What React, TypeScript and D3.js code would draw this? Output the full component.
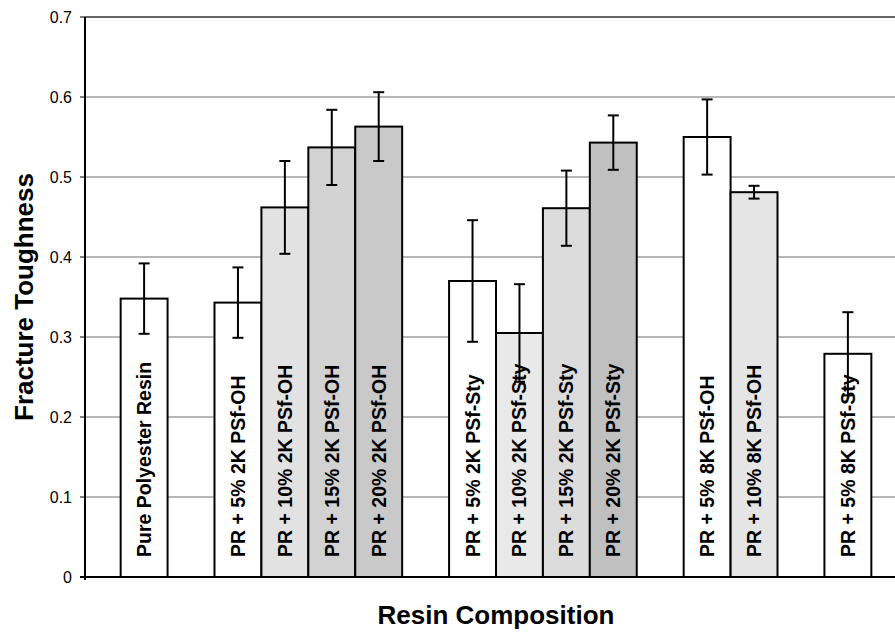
import React from "react";
import * as d3 from "d3";

// Resin compositions, grouped by modifier type; one empty slot separates groups
const groups: string[][] = [
  ["Pure Polyester Resin"],
  ["PR + 5% 2K PSf-OH", "PR + 10% 2K PSf-OH", "PR + 15% 2K PSf-OH", "PR + 20% 2K PSf-OH"],
  ["PR + 5% 2K PSf-Sty", "PR + 10% 2K PSf-Sty", "PR + 15% 2K PSf-Sty", "PR + 20% 2K PSf-Sty"],
  ["PR + 5% 8K PSf-OH", "PR + 10% 8K PSf-OH"],
  ["PR + 5% 8K PSf-Sty"],
];

// Fracture toughness (mean) and its error, in the same order as the compositions
const toughness = [0.348, 0.343, 0.462, 0.537, 0.563, 0.37, 0.305, 0.461, 0.543, 0.55, 0.481, 0.279];
const toughnessError = [0.044, 0.044, 0.058, 0.047, 0.043, 0.076, 0.061, 0.047, 0.034, 0.047, 0.008, 0.052];

// Bar shading per composition
const barFills = [
  "#ffffff",
  "#ffffff", "#e2e2e2", "#d2d2d2", "#c9c9c9",
  "#ffffff", "#e9e9e9", "#dcdcdc", "#c0c0c0",
  "#ffffff", "#e5e5e5",
  "#ffffff",
];

const yTicks = [0, 0.1, 0.2, 0.3, 0.4, 0.5, 0.6, 0.7];

const W = 895;
const H = 632;
const plot = { left: 85, right: 907, top: 17, bottom: 577 };
const FONT = "'Liberation Sans', Arial, Helvetica, sans-serif";

export default function App() {
  // Build slot list: bars plus one blank slot between groups
  const slots: string[] = [];
  const bars: { name: string; slot: string }[] = [];
  groups.forEach((g, gi) => {
    if (gi > 0) slots.push(`gap-${gi}`);
    g.forEach((name) => {
      slots.push(name);
      bars.push({ name, slot: name });
    });
  });

  const x = d3
    .scaleBand<string>()
    .domain(slots)
    .range([plot.left, plot.right])
    .paddingInner(0)
    .paddingOuter(0.76);

  const y = d3.scaleLinear().domain([0, 0.7]).range([plot.bottom, plot.top]);

  const bw = x.bandwidth();
  const capHalf = 5.5;

  return (
    <svg
      width={W}
      height={H}
      style={{ position: "absolute", left: 0, top: 0, background: "#fff" }}
      fontFamily={FONT}
    >
      <rect x={0} y={0} width={W} height={H} fill="#fff" />

      {/* Gridlines */}
      {yTicks.slice(1, -1).map((t) => (
        <line
          key={`g${t}`}
          x1={plot.left}
          x2={W}
          y1={y(t)}
          y2={y(t)}
          stroke="#6e6e6e"
          strokeWidth={1}
        />
      ))}
      <line x1={plot.left} x2={W} y1={y(0.7)} y2={y(0.7)} stroke="#333" strokeWidth={1.5} />

      {/* Bars */}
      {bars.map((b, i) => (
        <rect
          key={b.name}
          x={x(b.slot)!}
          y={y(toughness[i])}
          width={bw}
          height={y(0) - y(toughness[i])}
          fill={barFills[i]}
          stroke="#000"
          strokeWidth={2}
        />
      ))}

      {/* Labels inside bars, reading upward from the base */}
      {bars.map((b, i) => {
        const cx = x(b.slot)! + bw / 2;
        const by = y(0) - 20;
        return (
          <text
            key={`l${b.name}`}
            transform={`translate(${cx},${by}) rotate(-90)`}
            dy="0.36em"
            fontSize={19.5}
            fontWeight="bold"
            fill="#000"
          >
            {b.name}
          </text>
        );
      })}

      {/* Error bars */}
      {bars.map((b, i) => {
        const cx = x(b.slot)! + bw / 2;
        const hi = y(toughness[i] + toughnessError[i]);
        const lo = y(toughness[i] - toughnessError[i]);
        return (
          <g key={`e${b.name}`} stroke="#000" strokeWidth={2}>
            <line x1={cx} x2={cx} y1={hi} y2={lo} />
            <line x1={cx - capHalf} x2={cx + capHalf} y1={hi} y2={hi} />
            <line x1={cx - capHalf} x2={cx + capHalf} y1={lo} y2={lo} />
          </g>
        );
      })}

      {/* Axes */}
      <line x1={plot.left} x2={plot.left} y1={plot.top} y2={plot.bottom + 3} stroke="#000" strokeWidth={2} />
      <line x1={plot.left - 5} x2={W} y1={plot.bottom} y2={plot.bottom} stroke="#000" strokeWidth={2} />
      {yTicks.map((t) => (
        <g key={`t${t}`}>
          <line x1={plot.left - 5} x2={plot.left} y1={y(t)} y2={y(t)} stroke="#000" strokeWidth={1} />
          <text
            x={plot.left - 13}
            y={y(t)}
            dy="0.36em"
            textAnchor="end"
            fontSize={16}
            fill="#000"
          >
            {t === 0 ? "0" : d3.format(".1f")(t)}
          </text>
        </g>
      ))}

      {/* Axis titles */}
      <text
        transform={`translate(33,${(plot.top + plot.bottom) / 2}) rotate(-90)`}
        textAnchor="middle"
        fontSize={26}
        fontWeight="bold"
        fill="#000"
      >
        Fracture Toughness
      </text>
      <text
        x={(plot.left + plot.right) / 2}
        y={624}
        textAnchor="middle"
        fontSize={26}
        fontWeight="bold"
        fill="#000"
      >
        Resin Composition
      </text>
    </svg>
  );
}
